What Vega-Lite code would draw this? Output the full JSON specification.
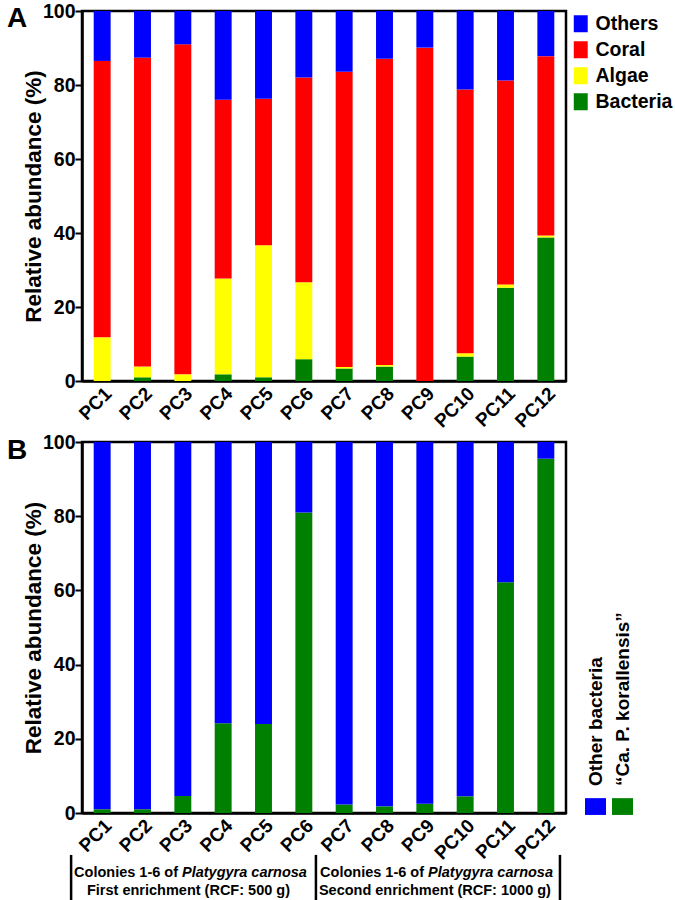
{
  "$schema": "https://vega.github.io/schema/vega-lite/v6.json",
  "padding": {"top": -1, "left": 5, "right": 0, "bottom": 0},
  "spacing": -3,
  "config": {
    "font": "Liberation Sans",
    "view": {"stroke": "black", "strokeWidth": 2.5},
    "axis": {"domainColor": "black", "domainWidth": 2.5, "tickColor": "black", "tickWidth": 2, "labelColor": "black", "labelFontWeight": "bold", "titleFontWeight": "bold", "titleColor": "black", "grid": false},
    "legend": {"labelFontWeight": "bold", "labelColor": "black", "labelFont": "Liberation Sans"}
  },
  "datasets": {
    "a": [
      {"sample": "PC1", "group": "Bacteria", "value": 0},
      {"sample": "PC1", "group": "Algae", "value": 11.8},
      {"sample": "PC1", "group": "Coral", "value": 74.7},
      {"sample": "PC1", "group": "Others", "value": 13.5},
      {"sample": "PC2", "group": "Bacteria", "value": 1},
      {"sample": "PC2", "group": "Algae", "value": 2.9},
      {"sample": "PC2", "group": "Coral", "value": 83.5},
      {"sample": "PC2", "group": "Others", "value": 12.6},
      {"sample": "PC3", "group": "Bacteria", "value": 0},
      {"sample": "PC3", "group": "Algae", "value": 1.8},
      {"sample": "PC3", "group": "Coral", "value": 89.2},
      {"sample": "PC3", "group": "Others", "value": 9},
      {"sample": "PC4", "group": "Bacteria", "value": 1.8},
      {"sample": "PC4", "group": "Algae", "value": 25.9},
      {"sample": "PC4", "group": "Coral", "value": 48.3},
      {"sample": "PC4", "group": "Others", "value": 24},
      {"sample": "PC5", "group": "Bacteria", "value": 1},
      {"sample": "PC5", "group": "Algae", "value": 35.7},
      {"sample": "PC5", "group": "Coral", "value": 39.6},
      {"sample": "PC5", "group": "Others", "value": 23.7},
      {"sample": "PC6", "group": "Bacteria", "value": 5.9},
      {"sample": "PC6", "group": "Algae", "value": 20.8},
      {"sample": "PC6", "group": "Coral", "value": 55.3},
      {"sample": "PC6", "group": "Others", "value": 18},
      {"sample": "PC7", "group": "Bacteria", "value": 3.4},
      {"sample": "PC7", "group": "Algae", "value": 0.4},
      {"sample": "PC7", "group": "Coral", "value": 79.8},
      {"sample": "PC7", "group": "Others", "value": 16.4},
      {"sample": "PC8", "group": "Bacteria", "value": 3.9},
      {"sample": "PC8", "group": "Algae", "value": 0.4},
      {"sample": "PC8", "group": "Coral", "value": 82.8},
      {"sample": "PC8", "group": "Others", "value": 12.9},
      {"sample": "PC9", "group": "Bacteria", "value": 0},
      {"sample": "PC9", "group": "Algae", "value": 0},
      {"sample": "PC9", "group": "Coral", "value": 90.1},
      {"sample": "PC9", "group": "Others", "value": 9.9},
      {"sample": "PC10", "group": "Bacteria", "value": 6.6},
      {"sample": "PC10", "group": "Algae", "value": 0.9},
      {"sample": "PC10", "group": "Coral", "value": 71.3},
      {"sample": "PC10", "group": "Others", "value": 21.2},
      {"sample": "PC11", "group": "Bacteria", "value": 25.2},
      {"sample": "PC11", "group": "Algae", "value": 0.9},
      {"sample": "PC11", "group": "Coral", "value": 55.1},
      {"sample": "PC11", "group": "Others", "value": 18.8},
      {"sample": "PC12", "group": "Bacteria", "value": 38.8},
      {"sample": "PC12", "group": "Algae", "value": 0.5},
      {"sample": "PC12", "group": "Coral", "value": 48.5},
      {"sample": "PC12", "group": "Others", "value": 12.2}
    ],
    "b": [
      {"sample": "PC1", "group": "“Ca. P. korallensis”", "value": 1},
      {"sample": "PC1", "group": "Other bacteria", "value": 99},
      {"sample": "PC2", "group": "“Ca. P. korallensis”", "value": 1},
      {"sample": "PC2", "group": "Other bacteria", "value": 99},
      {"sample": "PC3", "group": "“Ca. P. korallensis”", "value": 4.6},
      {"sample": "PC3", "group": "Other bacteria", "value": 95.4},
      {"sample": "PC4", "group": "“Ca. P. korallensis”", "value": 24.2},
      {"sample": "PC4", "group": "Other bacteria", "value": 75.8},
      {"sample": "PC5", "group": "“Ca. P. korallensis”", "value": 24},
      {"sample": "PC5", "group": "Other bacteria", "value": 76},
      {"sample": "PC6", "group": "“Ca. P. korallensis”", "value": 81},
      {"sample": "PC6", "group": "Other bacteria", "value": 19},
      {"sample": "PC7", "group": "“Ca. P. korallensis”", "value": 2.3},
      {"sample": "PC7", "group": "Other bacteria", "value": 97.7},
      {"sample": "PC8", "group": "“Ca. P. korallensis”", "value": 1.8},
      {"sample": "PC8", "group": "Other bacteria", "value": 98.2},
      {"sample": "PC9", "group": "“Ca. P. korallensis”", "value": 2.5},
      {"sample": "PC9", "group": "Other bacteria", "value": 97.5},
      {"sample": "PC10", "group": "“Ca. P. korallensis”", "value": 4.5},
      {"sample": "PC10", "group": "Other bacteria", "value": 95.5},
      {"sample": "PC11", "group": "“Ca. P. korallensis”", "value": 62.2},
      {"sample": "PC11", "group": "Other bacteria", "value": 37.8},
      {"sample": "PC12", "group": "“Ca. P. korallensis”", "value": 95.5},
      {"sample": "PC12", "group": "Other bacteria", "value": 4.5}
    ]
  },
  "vconcat": [
    {
      "width": 484,
      "height": 370,
      "resolve": {"scale": {"x": "independent"}},
      "layer": [
        {
          "data": {"name": "a"},
          "transform": [{"calculate": "indexof(['Bacteria','Algae','Coral','Others'], datum.group)", "as": "ord"}],
          "mark": {"type": "bar"},
          "encoding": {
            "x": {"field": "sample", "type": "nominal", "sort": null,
              "scale": {"paddingInner": 0.58, "paddingOuter": 0.29},
              "axis": {"title": null, "labelAngle": -45, "labelFontSize": 19, "ticks": false, "labelPadding": 3}},
            "y": {"field": "value", "type": "quantitative", "stack": "zero",
              "scale": {"domain": [0, 100], "nice": false},
              "axis": {"title": "Relative abundance (%)", "titleFontSize": 22.5, "titlePadding": -3,
                "values": [0, 10, 20, 30, 40, 50, 60, 70, 80, 90, 100],
                "labelExpr": "datum.value % 20 === 0 ? datum.label : ''",
                "tickSize": {"condition": {"test": "datum.value % 20 === 0", "value": 7}, "value": 5},
                "labelFontSize": 19.5, "labelPadding": 0}},
            "color": {"field": "group", "type": "nominal",
              "scale": {"domain": ["Others", "Coral", "Algae", "Bacteria"], "range": ["#0000FF", "#FF0000", "#FFFF00", "#008000"]},
              "legend": {"title": null, "orient": "none", "legendX": 489, "legendY": 3, "direction": "vertical", "labelFontSize": 19.5, "labelOffset": 5, "labelLimit": 0,
                "symbolType": "M-0.82,-1L0.82,-1L0.82,1L-0.82,1Z", "symbolSize": 289, "symbolStrokeWidth": 0, "rowPadding": 5}},
            "order": {"field": "ord", "type": "quantitative"}
          }
        },
        {
          "data": {"values": [{}]},
          "mark": {"type": "text", "text": "A", "fontSize": 28, "fontWeight": "bold", "align": "center", "baseline": "alphabetic", "color": "black"},
          "encoding": {
            "x": {"datum": -1.61, "type": "quantitative", "scale": {"domain": [0, 12], "nice": false, "zero": false}, "axis": null},
            "y": {"datum": 95.7, "type": "quantitative"}
          }
        }
      ]
    },
    {
      "width": 484,
      "height": 371,
      "resolve": {"scale": {"x": "independent", "color": "independent"}},
      "layer": [
        {
          "data": {"name": "b"},
          "transform": [{"calculate": "datum.group === 'Other bacteria' ? 1 : 0", "as": "ord"}],
          "mark": {"type": "bar"},
          "encoding": {
            "x": {"field": "sample", "type": "nominal", "sort": null,
              "scale": {"paddingInner": 0.58, "paddingOuter": 0.29},
              "axis": {"title": null, "labelAngle": -45, "labelFontSize": 19, "ticks": false, "labelPadding": 3}},
            "y": {"field": "value", "type": "quantitative", "stack": "zero",
              "scale": {"domain": [0, 100], "nice": false},
              "axis": {"title": "Relative abundance (%)", "titleFontSize": 22.5, "titlePadding": -3,
                "values": [0, 10, 20, 30, 40, 50, 60, 70, 80, 90, 100],
                "labelExpr": "datum.value % 20 === 0 ? datum.label : ''",
                "tickSize": {"condition": {"test": "datum.value % 20 === 0", "value": 7}, "value": 5},
                "labelFontSize": 19.5, "labelPadding": 0}},
            "color": {"field": "group", "type": "nominal",
              "scale": {"domain": ["Other bacteria", "“Ca. P. korallensis”"], "range": ["#0000FF", "#008000"]},
              "legend": {"title": null, "orient": "none", "legendX": 503, "legendY": 354, "direction": "horizontal",
                "labelFontSize": 19, "labelLimit": 0, "labelOffset": 0, "columnPadding": 6,
                "symbolType": "M-1,-0.8L1,-0.8L1,0.8L-1,0.8Z", "symbolSize": 441, "symbolStrokeWidth": 0,
                "encode": {"labels": {"update": {"angle": {"value": -90}, "align": {"value": "left"}, "baseline": {"value": "middle"}, "x": {"value": 10.5}, "y": {"value": -10}}}}}},
            "order": {"field": "ord", "type": "quantitative"}
          }
        },
        {
          "data": {"values": [{}]},
          "encoding": {
            "x": {"type": "quantitative", "scale": {"domain": [0, 12], "nice": false, "zero": false}, "axis": null}
          },
          "layer": [
            {
              "mark": {"type": "text", "text": "B", "fontSize": 28, "fontWeight": "bold", "align": "center", "baseline": "alphabetic", "color": "black"},
              "encoding": {"x": {"datum": -1.61, "type": "quantitative", "axis": null}, "y": {"datum": 95.4, "type": "quantitative"}}
            },
            {
              "mark": {"type": "rule", "strokeWidth": 2.5, "color": "black"},
              "encoding": {"x": {"datum": -0.27, "type": "quantitative", "axis": null}, "y": {"datum": -11.3, "type": "quantitative"}, "y2": {"datum": -24.5}}
            },
            {
              "mark": {"type": "rule", "strokeWidth": 2.5, "color": "black"},
              "encoding": {"x": {"datum": 5.8, "type": "quantitative", "axis": null}, "y": {"datum": -11.3, "type": "quantitative"}, "y2": {"datum": -24.5}}
            },
            {
              "mark": {"type": "rule", "strokeWidth": 2.5, "color": "black"},
              "encoding": {"x": {"datum": 11.85, "type": "quantitative", "axis": null}, "y": {"datum": -11.3, "type": "quantitative"}, "y2": {"datum": -24.5}}
            },
            {
              "mark": {"type": "text", "text": "Colonies 1-6 of", "fontSize": 14.5, "fontWeight": "bold", "align": "right", "baseline": "middle", "dx": -2, "color": "black"},
              "encoding": {"x": {"datum": 2.43, "type": "quantitative", "axis": null}, "y": {"datum": -16.1, "type": "quantitative"}}
            },
            {
              "mark": {"type": "text", "text": "Platygyra carnosa", "fontSize": 14.5, "fontWeight": "bold", "fontStyle": "italic", "align": "left", "baseline": "middle", "dx": 2, "color": "black"},
              "encoding": {"x": {"datum": 2.43, "type": "quantitative", "axis": null}, "y": {"datum": -16.1, "type": "quantitative"}}
            },
            {
              "mark": {"type": "text", "text": "First enrichment (RCF: 500 g)", "fontSize": 14.5, "fontWeight": "bold", "align": "center", "baseline": "middle", "color": "black"},
              "encoding": {"x": {"datum": 2.64, "type": "quantitative", "axis": null}, "y": {"datum": -21, "type": "quantitative"}}
            },
            {
              "mark": {"type": "text", "text": "Colonies 1-6 of", "fontSize": 14.5, "fontWeight": "bold", "align": "right", "baseline": "middle", "dx": -2, "color": "black"},
              "encoding": {"x": {"datum": 8.53, "type": "quantitative", "axis": null}, "y": {"datum": -16.1, "type": "quantitative"}}
            },
            {
              "mark": {"type": "text", "text": "Platygyra carnosa", "fontSize": 14.5, "fontWeight": "bold", "fontStyle": "italic", "align": "left", "baseline": "middle", "dx": 2, "color": "black"},
              "encoding": {"x": {"datum": 8.53, "type": "quantitative", "axis": null}, "y": {"datum": -16.1, "type": "quantitative"}}
            },
            {
              "mark": {"type": "text", "text": "Second enrichment (RCF: 1000 g)", "fontSize": 14.5, "fontWeight": "bold", "align": "center", "baseline": "middle", "color": "black"},
              "encoding": {"x": {"datum": 8.75, "type": "quantitative", "axis": null}, "y": {"datum": -21, "type": "quantitative"}}
            }
          ]
        }
      ]
    }
  ]
}
